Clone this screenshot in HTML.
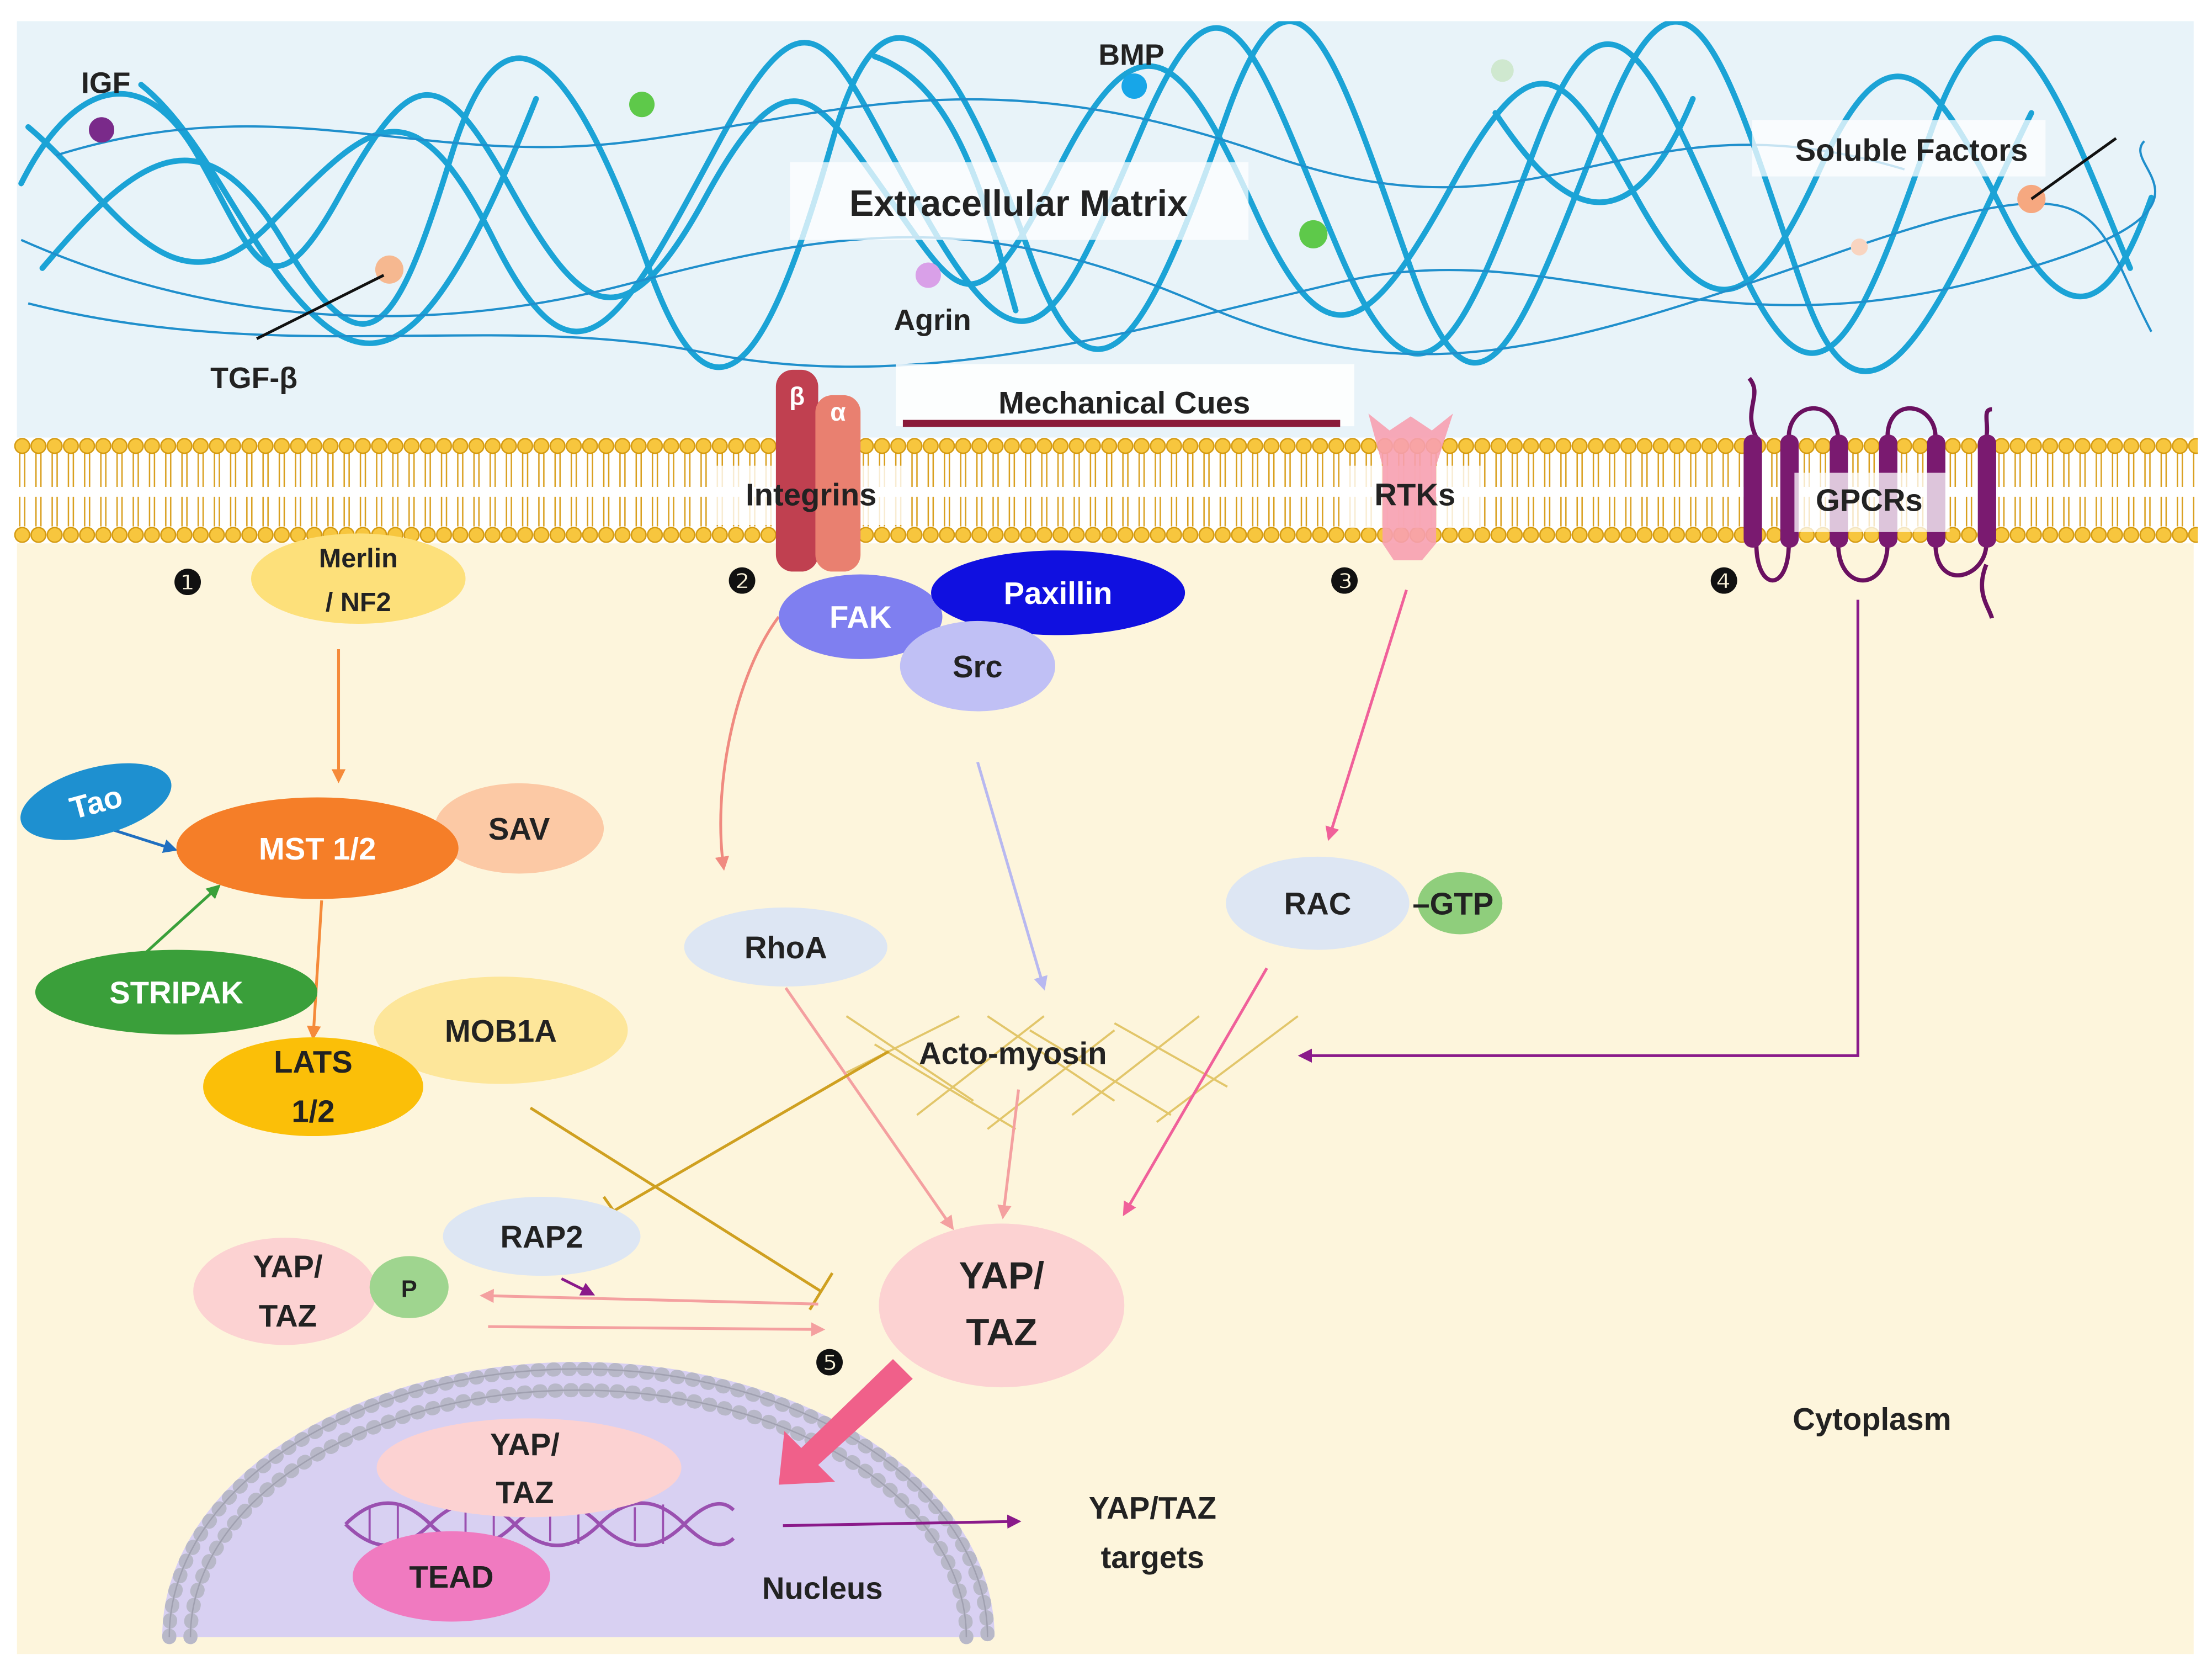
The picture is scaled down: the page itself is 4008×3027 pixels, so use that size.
<!DOCTYPE html>
<html><head><meta charset="utf-8"><style>
html,body{margin:0;padding:0;background:#fff;}
svg{display:block;}
text{font-family:"Liberation Sans",sans-serif;font-weight:bold;}
</style></head><body>
<svg width="4008" height="3027" viewBox="0 0 1568 1184" preserveAspectRatio="none" xmlns="http://www.w3.org/2000/svg">
<defs>
<pattern id="mem" x="10" y="0" width="11.5" height="1184" patternUnits="userSpaceOnUse">
<path d="M4 321 V345 M7.5 321 V345 M4 352 V373 M7.5 352 V373" stroke="#d9a020" stroke-width="1" fill="none"/>
<circle cx="5.75" cy="316" r="5.2" fill="#f7c63e" stroke="#d49a12" stroke-width="1"/>
<circle cx="5.75" cy="379" r="5.2" fill="#f7c63e" stroke="#d49a12" stroke-width="1"/>
</pattern>
<clipPath id="ecm"><rect x="12" y="15" width="1543" height="290"/></clipPath>
<marker id="aO" markerWidth="10" markerHeight="10" refX="8" refY="5" orient="auto" markerUnits="userSpaceOnUse"><path d="M0,0 L10,5 L0,10 z" fill="#f58a3a"/></marker>
<marker id="aB" markerWidth="10" markerHeight="10" refX="8" refY="5" orient="auto" markerUnits="userSpaceOnUse"><path d="M0,0 L10,5 L0,10 z" fill="#1f6fc0"/></marker>
<marker id="aG" markerWidth="10" markerHeight="10" refX="8" refY="5" orient="auto" markerUnits="userSpaceOnUse"><path d="M0,0 L10,5 L0,10 z" fill="#3aa03a"/></marker>
<marker id="aP" markerWidth="10" markerHeight="10" refX="8" refY="5" orient="auto" markerUnits="userSpaceOnUse"><path d="M0,0 L10,5 L0,10 z" fill="#f08a80"/></marker>
<marker id="aH" markerWidth="10" markerHeight="10" refX="8" refY="5" orient="auto" markerUnits="userSpaceOnUse"><path d="M0,0 L10,5 L0,10 z" fill="#f0609a"/></marker>
<marker id="aL" markerWidth="10" markerHeight="10" refX="8" refY="5" orient="auto" markerUnits="userSpaceOnUse"><path d="M0,0 L10,5 L0,10 z" fill="#b8b8f0"/></marker>
<marker id="aV" markerWidth="10" markerHeight="10" refX="8" refY="5" orient="auto" markerUnits="userSpaceOnUse"><path d="M0,0 L10,5 L0,10 z" fill="#8a1a8a"/></marker>
<marker id="aK" markerWidth="10" markerHeight="10" refX="8" refY="5" orient="auto" markerUnits="userSpaceOnUse"><path d="M0,0 L10,5 L0,10 z" fill="#f4a0a0"/></marker>
</defs>
<rect x="0" y="0" width="1568" height="1184" fill="#fff"/>
<rect x="12" y="15" width="1543" height="295" fill="#e8f3f9"/>
<rect x="12" y="385" width="1543" height="787" fill="#fdf5dc"/>
<!-- fibers -->
<g clip-path="url(#ecm)">
<g fill="none" stroke="#1ba3d6" stroke-width="4" stroke-linecap="round">
<path d="M15 130 C50 60 100 40 140 110 S190 230 240 140 S310 40 360 130 S440 250 500 140 S580 70 630 140 S690 240 750 120 S840 40 890 150 S970 240 1030 130 S1110 50 1160 140 S1240 230 1290 120 S1370 50 1420 150 S1500 210 1525 140"/>
<path d="M20 90 C80 140 120 230 190 160 S290 50 350 170 S440 230 510 100 S590 40 660 160 S750 230 810 90 S890 40 950 180 S1040 230 1090 100 S1170 40 1230 180 S1320 230 1370 90 S1460 70 1510 190"/>
<path d="M30 190 C90 120 140 70 200 170 S280 240 320 110 S410 50 460 190 S550 240 590 100 S680 40 730 180 S820 220 870 80 S950 50 1000 190 S1080 230 1140 80 S1230 70 1280 210 S1390 180 1440 80"/>
<path d="M100 60 C150 100 180 190 230 230 S320 220 380 70 M620 40 C680 60 700 150 720 220 M1060 80 C1100 140 1150 190 1200 70"/>
</g>
<g fill="none" stroke="#1f8fcc" stroke-width="1.6">
<path d="M15 170 C150 230 300 240 450 200 S700 150 850 215 S1100 250 1300 180 S1480 150 1525 235"/>
<path d="M20 215 C200 260 350 220 500 250 S800 235 950 200 S1200 250 1400 200 S1500 120 1520 100"/>
<path d="M40 110 C200 60 300 120 450 100 S700 40 900 110 S1150 60 1350 120"/>
</g>
</g>
<circle cx="72" cy="92" r="9" fill="#7a2a8a"/><text x="75" y="66" font-size="21" text-anchor="middle" fill="#222">IGF</text>
<circle cx="804" cy="61" r="9" fill="#17a6e8"/><text x="802" y="46" font-size="21" text-anchor="middle" fill="#222">BMP</text>
<circle cx="455" cy="74" r="9" fill="#5ec94a"/><circle cx="931" cy="166" r="10" fill="#5ec94a"/><circle cx="1065" cy="50" r="8" fill="#cfe8cf"/>
<circle cx="658" cy="195" r="9" fill="#d9a0e8"/><text x="661" y="234" font-size="21" text-anchor="middle" fill="#222">Agrin</text>
<circle cx="276" cy="191" r="10" fill="#f6b890"/><path d="M182 240 L272 195" stroke="#111" stroke-width="2"/><text x="180" y="275" font-size="21" text-anchor="middle" fill="#222">TGF-β</text>
<circle cx="1440" cy="141" r="10" fill="#f6a880"/><path d="M1440 141 L1500 98" stroke="#111" stroke-width="2"/><circle cx="1318" cy="175" r="6" fill="#f8d4c0"/>
<rect x="1242" y="85" width="208" height="40" fill="#fff" opacity="0.75"/><text x="1355" y="114" font-size="22" text-anchor="middle" fill="#222">Soluble Factors</text>
<rect x="560" y="115" width="325" height="55" fill="#fff" opacity="0.75"/><text x="722" y="153" font-size="26" text-anchor="middle" fill="#222">Extracellular Matrix</text>
<!-- membrane -->
<rect x="10" y="305" width="1548" height="85" fill="url(#mem)"/>
<rect x="635" y="258" width="325" height="44" fill="#fff" opacity="0.85"/>
<line x1="640" y1="300" x2="950" y2="300" stroke="#8a1a3a" stroke-width="5"/>
<text x="797" y="293" font-size="22" text-anchor="middle" fill="#222">Mechanical Cues</text>
<!-- integrins -->
<rect x="505" y="330" width="140" height="42" fill="#fff" opacity="0.8"/>
<rect x="550" y="262" width="30" height="143" rx="12" fill="#c04050"/>
<rect x="578" y="280" width="32" height="125" rx="12" fill="#e98070"/>
<text x="565" y="287" font-size="18" text-anchor="middle" fill="#fff">β</text>
<text x="594" y="298" font-size="18" text-anchor="middle" fill="#fff">α</text>
<text x="575" y="358" font-size="22" text-anchor="middle" fill="#222">Integrins</text>
<!-- RTK -->
<rect x="955" y="330" width="95" height="44" fill="#fff" opacity="0.8"/>
<path d="M970 293 L985 305 L1000 295 L1015 305 L1030 293 L1018 330 L1018 385 L1008 397 L988 397 L980 385 L980 330 Z" fill="#f7a0b0" opacity="0.9"/>
<text x="1003" y="358" font-size="22" text-anchor="middle" fill="#222">RTKs</text>
<!-- GPCR -->
<g fill="none" stroke="#6a1060" stroke-width="3">
<path d="M1245 310 C1235 290 1250 280 1240 268 M1245 385 C1245 420 1268 420 1268 385 M1268 310 C1268 285 1300 280 1303 310 M1303 385 C1303 420 1338 420 1338 385 M1338 310 C1338 280 1372 285 1372 310 M1372 385 C1372 420 1408 410 1408 385 M1408 310 C1410 300 1405 290 1412 290 M1408 400 C1400 420 1410 430 1412 438"/>
</g>
<g fill="#7a1a70"><rect x="1236" y="308" width="13" height="80" rx="6"/><rect x="1262" y="308" width="13" height="80" rx="6"/><rect x="1297" y="308" width="13" height="80" rx="6"/><rect x="1332" y="308" width="13" height="80" rx="6"/><rect x="1366" y="308" width="13" height="80" rx="6"/><rect x="1402" y="308" width="13" height="80" rx="6"/></g>
<rect x="1272" y="335" width="110" height="42" fill="#fff" opacity="0.75"/>
<text x="1325" y="362" font-size="22" text-anchor="middle" fill="#222">GPCRs</text>
<!-- nucleus -->
<path d="M115 1160 A295 195 0 0 1 705 1160 Z" fill="#d8d0f2"/>
<path d="M120 1160 A290 190 0 0 1 700 1160" fill="none" stroke="#b8b8c8" stroke-width="10" stroke-dasharray="1 10" stroke-linecap="round"/>
<path d="M135 1160 A275 175 0 0 1 685 1160" fill="none" stroke="#b8b8c8" stroke-width="10" stroke-dasharray="1 10" stroke-linecap="round"/>
<path d="M120 1160 A290 190 0 0 1 700 1160 M135 1160 A275 175 0 0 1 685 1160" fill="none" stroke="#a0a0b0" stroke-width="1"/>
<g fill="none" stroke="#9a50b0" stroke-width="2.5">
<path d="M245 1080 C265 1060 285 1060 305 1080 S345 1100 365 1080 S405 1060 425 1080 S465 1100 485 1080 S515 1065 520 1070"/>
<path d="M245 1080 C265 1100 285 1100 305 1080 S345 1060 365 1080 S405 1100 425 1080 S465 1060 485 1080 S515 1095 520 1090"/>
<path d="M262 1068 V1092 M282 1066 V1094 M330 1068 V1092 M350 1066 V1094 M390 1068 V1092 M410 1066 V1094 M450 1068 V1092 M470 1066 V1094" stroke-width="1.5"/>
</g>
<!-- actomyosin -->
<g stroke="#e2c66a" stroke-width="1.5">
<path d="M600 720 L690 780 M620 740 L720 800 M700 720 L790 780 M730 730 L830 790 M790 725 L870 770 M650 790 L740 720 M700 800 L790 730 M760 790 L850 720 M820 795 L920 720 M600 760 L680 720"/>
</g>
<!-- arrows -->
<g fill="none" stroke-width="2">
<path d="M240 460 V553" stroke="#f58a3a" marker-end="url(#aO)"/>
<path d="M228 638 L222 735" stroke="#f58a3a" marker-end="url(#aO)"/>
<path d="M80 588 L124 602" stroke="#1f6fc0" marker-end="url(#aB)"/>
<path d="M100 678 L155 628" stroke="#3aa03a" marker-end="url(#aG)"/>
<path d="M552 437 C520 480 505 560 513 615" stroke="#f08a80" marker-end="url(#aP)"/>
<path d="M693 540 L740 700" stroke="#b8b8f0" marker-end="url(#aL)"/>
<path d="M997 418 L942 594" stroke="#f0609a" marker-end="url(#aH)"/>
<path d="M1317 425 V748 H922" stroke="#8a1a8a" marker-end="url(#aV)"/>
<path d="M557 700 L675 870" stroke="#f4a0a0" marker-end="url(#aK)"/>
<path d="M722 772 L711 862" stroke="#f4a0a0" marker-end="url(#aK)"/>
<path d="M898 686 L797 860" stroke="#f0609a" marker-end="url(#aH)"/>
<path d="M630 745 L435 858 M428 848 L442 868" stroke="#cfa020"/>
<path d="M376 785 L582 915 M590 902 L574 928" stroke="#cfa020"/>
<path d="M580 924 L342 918" stroke="#f4a0a0" marker-end="url(#aK)"/>
<path d="M346 940 L583 942" stroke="#f4a0a0" marker-end="url(#aK)"/>
<path d="M398 906 L420 917" stroke="#8a1a8a" marker-end="url(#aV)"/>
<path d="M555 1081 L722 1078" stroke="#8a1a8a" marker-end="url(#aV)"/>
</g>
<path d="M633 963 L647 977 L580 1038 L592 1050 L552 1052 L556 1014 L568 1026 Z" fill="#f0608a"/>
<!-- proteins -->
<g font-size="22" text-anchor="middle">
<ellipse cx="254" cy="410" rx="76" ry="32" fill="#fde07a"/><text x="254" y="402" font-size="19" fill="#222">Merlin</text><text x="254" y="433" font-size="19" fill="#222">/ NF2</text>
<ellipse cx="610" cy="437" rx="58" ry="30" fill="#7f7ff0"/><text x="610" y="445" fill="#fff">FAK</text>
<ellipse cx="750" cy="420" rx="90" ry="30" fill="#1010e0"/><text x="750" y="428" fill="#fff">Paxillin</text>
<ellipse cx="693" cy="472" rx="55" ry="32" fill="#c0c0f5"/><text x="693" y="480" fill="#222">Src</text>
<g transform="rotate(-15 68 568)"><ellipse cx="68" cy="568" rx="55" ry="24" fill="#1e90d0"/><text x="68" y="576" fill="#fff">Tao</text></g>
<ellipse cx="368" cy="587" rx="60" ry="32" fill="#fcc9a5"/><text x="368" y="595" fill="#222">SAV</text>
<ellipse cx="225" cy="601" rx="100" ry="36" fill="#f57e28"/><text x="225" y="609" fill="#fff">MST 1/2</text>
<ellipse cx="125" cy="703" rx="100" ry="30" fill="#3a9f3a"/><text x="125" y="711" fill="#fff">STRIPAK</text>
<ellipse cx="355" cy="730" rx="90" ry="38" fill="#fde69a"/><text x="355" y="738" fill="#222">MOB1A</text>
<ellipse cx="222" cy="770" rx="78" ry="35" fill="#fbbf08"/><text x="222" y="760" fill="#222">LATS</text><text x="222" y="795" fill="#222">1/2</text>
<ellipse cx="557" cy="671" rx="72" ry="28" fill="#dde6f3"/><text x="557" y="679" fill="#222">RhoA</text>
<ellipse cx="934" cy="640" rx="65" ry="33" fill="#dde6f3"/><text x="934" y="648" fill="#222">RAC</text>
<ellipse cx="1035" cy="640" rx="30" ry="22" fill="#8fce7c"/><text x="1030" y="648" fill="#222">–GTP</text>
<text x="718" y="754" fill="#222">Acto-myosin</text>
<ellipse cx="384" cy="876" rx="70" ry="28" fill="#dde6f3"/><text x="384" y="884" fill="#222">RAP2</text>
<ellipse cx="202" cy="915" rx="65" ry="38" fill="#fcd2d2"/><text x="204" y="905" fill="#222">YAP/</text><text x="204" y="940" fill="#222">TAZ</text>
<ellipse cx="290" cy="912" rx="28" ry="22" fill="#9fd58f"/><text x="290" y="919" font-size="17" fill="#222">P</text>
<ellipse cx="710" cy="925" rx="87" ry="58" fill="#fcd2d2"/><text x="710" y="913" font-size="27" fill="#222">YAP/</text><text x="710" y="953" font-size="27" fill="#222">TAZ</text>
<ellipse cx="375" cy="1040" rx="108" ry="35" fill="#fcd2d2"/><text x="372" y="1031" fill="#222">YAP/</text><text x="372" y="1065" fill="#222">TAZ</text>
<ellipse cx="320" cy="1117" rx="70" ry="32" fill="#f07ac0"/><text x="320" y="1125" fill="#222">TEAD</text>
<text x="583" y="1133" fill="#222">Nucleus</text>
<text x="817" y="1076" font-weight="normal" fill="#222">YAP/TAZ</text><text x="817" y="1111" font-weight="normal" fill="#222">targets</text>
<text x="1327" y="1013" fill="#222">Cytoplasm</text>
<text x="133" y="421" font-size="24" fill="#111">❶</text>
<text x="526" y="420" font-size="24" fill="#111">❷</text>
<text x="953" y="420" font-size="24" fill="#111">❸</text>
<text x="1222" y="420" font-size="24" fill="#111">❹</text>
<text x="588" y="974" font-size="24" fill="#111">❺</text>
</g>
</svg>
</body></html>
